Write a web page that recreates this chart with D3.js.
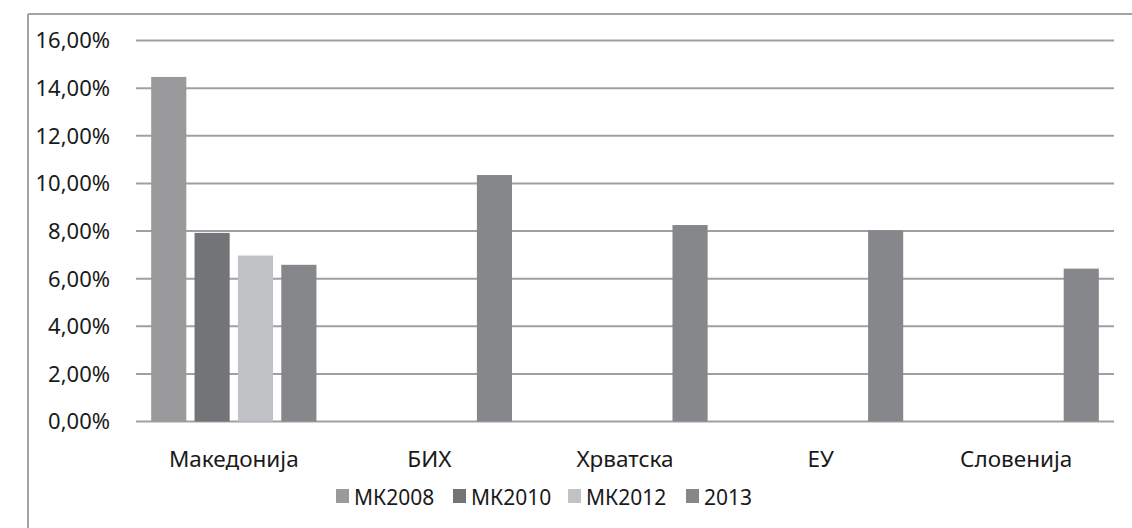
<!DOCTYPE html>
<html><head><meta charset="utf-8">
<script src="https://cdn.jsdelivr.net/npm/d3@7"></script>
<style>
html,body{margin:0;padding:0;background:#fff;}
svg{display:block;}
text{font-family:"Noto Sans",sans-serif;fill:#1a1a1a;}
</style></head>
<body>
<script>
const categories = ["Македонија","БИХ","Хрватска","ЕУ","Словенија"];
const seriesNames = ["МК2008","МК2010","МК2012","2013"];
const mk2008 = [14.47, null, null, null, null];
const mk2010 = [7.92, null, null, null, null];
const mk2012 = [6.97, null, null, null, null];
const y2013 = [6.58, 10.35, 8.25, 8.03, 6.42];
const yTicks = [0,2,4,6,8,10,12,14,16];
const colors = ["#9a9a9d","#737477","#c1c2c5","#86878b"];

(function(){
const seriesValues = [mk2008, mk2010, mk2012, y2013];
const W = 1132, H = 528;
const svg = d3.select("body").append("svg").attr("width", W).attr("height", H);

// outer frame (top and left visible)
svg.append("line").attr("x1",28).attr("x2",W).attr("y1",14).attr("y2",14).attr("stroke","#a3a3a3").attr("stroke-width",2);
svg.append("line").attr("x1",28).attr("x2",28).attr("y1",14).attr("y2",H).attr("stroke","#a3a3a3").attr("stroke-width",2);

const pL = 136, pR = 1114, pT = 40.5, pB = 421.5;
const x = d3.scaleBand().domain(categories).range([pL, pR]).paddingInner(0).paddingOuter(0);
const y = d3.scaleLinear().domain([0,16]).range([pB, pT]);
const xs = d3.scaleBand().domain(seriesNames).range([0, x.bandwidth()]).paddingInner(0.19).paddingOuter(0.35);

// gridlines
svg.append("g").selectAll("line").data(yTicks).join("line")
  .attr("x1",pL).attr("x2",pR)
  .attr("y1",d=>y(d)).attr("y2",d=>y(d))
  .attr("stroke","#a0a0a3").attr("stroke-width",2);

// y labels
const fmt = d => d.toFixed(2).replace(".", ",") + "%";
svg.append("g").selectAll("text").data(yTicks).join("text")
  .attr("x",110).attr("y",d=>y(d)).attr("dy","0.36em")
  .attr("text-anchor","end").attr("font-size",22).text(fmt);

// bars
seriesValues.forEach((vals, si) => {
  svg.append("g").selectAll("rect")
    .data(categories.map((c,i)=>({c, v: vals[i]})).filter(d=>d.v!=null))
    .join("rect")
    .attr("x", d => x(d.c) + xs(seriesNames[si]))
    .attr("width", xs.bandwidth())
    .attr("y", d => y(d.v))
    .attr("height", d => y(0) - y(d.v))
    .attr("fill", colors[si]);
});

// category labels
svg.append("g").selectAll("text").data(categories).join("text")
  .attr("x", d => x(d) + x.bandwidth()/2).attr("y", 467)
  .attr("text-anchor","middle").attr("font-size",22.5).text(d=>d);

// legend
const legX = [336, 453, 568, 686];
const lg = svg.append("g");
seriesNames.forEach((n,i) => {
  lg.append("rect").attr("x",legX[i]).attr("y",489).attr("width",13).attr("height",14).attr("fill",colors[i]);
  lg.append("text").attr("x",legX[i]+18).attr("y",504.5).attr("font-size",21).text(n);
});
})();
</script>
</body></html>
